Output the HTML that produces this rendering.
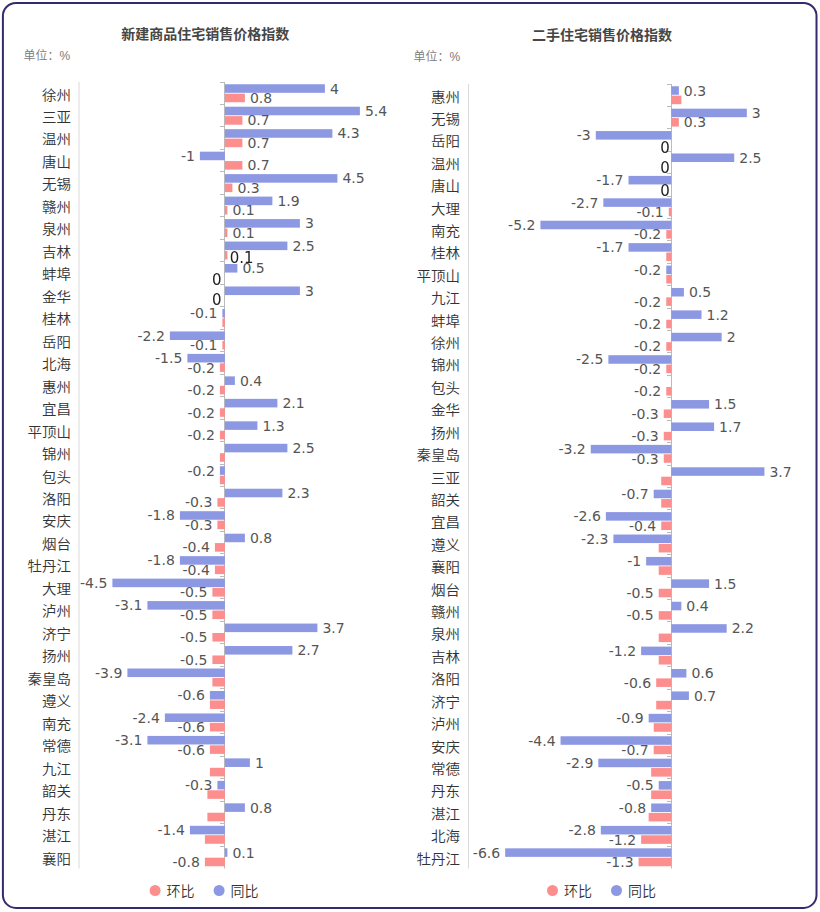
<!DOCTYPE html>
<html><head><meta charset="utf-8"><style>
html,body{margin:0;padding:0;background:#fff;width:820px;height:912px;overflow:hidden}
svg{position:absolute;left:0;top:0}
.ov{will-change:transform}
</style></head><body>

<svg width="820" height="912" viewBox="0 0 820 912">
<rect x="2.9" y="3" width="813.6" height="904.9" rx="13" ry="13" fill="none" stroke="#342b6e" stroke-width="2"/>
<g font-family="'Liberation Sans','Noto Sans CJK SC',sans-serif" font-size="14" font-weight="bold" fill="#464646" text-anchor="middle">
<text x="205.3" y="33.5" dominant-baseline="central">新建商品住宅销售价格指数</text>
<text x="602.1" y="34.5" dominant-baseline="central">二手住宅销售价格指数</text>
</g>
<g font-family="'Liberation Sans','Noto Sans CJK SC',sans-serif" font-size="12" font-weight="350" fill="#7a7a7a">
<text x="23.5" y="55.8" dominant-baseline="central">单位：%</text>
<text x="413.5" y="57.3" dominant-baseline="central">单位：%</text>
</g>
<rect x="78.50" y="82.00" width="1" height="786.50" fill="#d9d9d9"/>
<rect x="224" y="82.00" width="1" height="786.50" fill="#bbbbbb"/>
<rect x="220" y="82" width="4" height="1" fill="#bbbbbb"/>
<rect x="220" y="104" width="4" height="1" fill="#bbbbbb"/>
<rect x="220" y="126" width="4" height="1" fill="#bbbbbb"/>
<rect x="220" y="149" width="4" height="1" fill="#bbbbbb"/>
<rect x="220" y="171" width="4" height="1" fill="#bbbbbb"/>
<rect x="220" y="194" width="4" height="1" fill="#bbbbbb"/>
<rect x="220" y="216" width="4" height="1" fill="#bbbbbb"/>
<rect x="220" y="239" width="4" height="1" fill="#bbbbbb"/>
<rect x="220" y="261" width="4" height="1" fill="#bbbbbb"/>
<rect x="220" y="284" width="4" height="1" fill="#bbbbbb"/>
<rect x="220" y="306" width="4" height="1" fill="#bbbbbb"/>
<rect x="220" y="329" width="4" height="1" fill="#bbbbbb"/>
<rect x="220" y="351" width="4" height="1" fill="#bbbbbb"/>
<rect x="220" y="374" width="4" height="1" fill="#bbbbbb"/>
<rect x="220" y="396" width="4" height="1" fill="#bbbbbb"/>
<rect x="220" y="419" width="4" height="1" fill="#bbbbbb"/>
<rect x="220" y="441" width="4" height="1" fill="#bbbbbb"/>
<rect x="220" y="464" width="4" height="1" fill="#bbbbbb"/>
<rect x="220" y="486" width="4" height="1" fill="#bbbbbb"/>
<rect x="220" y="508" width="4" height="1" fill="#bbbbbb"/>
<rect x="220" y="531" width="4" height="1" fill="#bbbbbb"/>
<rect x="220" y="553" width="4" height="1" fill="#bbbbbb"/>
<rect x="220" y="576" width="4" height="1" fill="#bbbbbb"/>
<rect x="220" y="598" width="4" height="1" fill="#bbbbbb"/>
<rect x="220" y="621" width="4" height="1" fill="#bbbbbb"/>
<rect x="220" y="643" width="4" height="1" fill="#bbbbbb"/>
<rect x="220" y="666" width="4" height="1" fill="#bbbbbb"/>
<rect x="220" y="688" width="4" height="1" fill="#bbbbbb"/>
<rect x="220" y="711" width="4" height="1" fill="#bbbbbb"/>
<rect x="220" y="733" width="4" height="1" fill="#bbbbbb"/>
<rect x="220" y="756" width="4" height="1" fill="#bbbbbb"/>
<rect x="220" y="778" width="4" height="1" fill="#bbbbbb"/>
<rect x="220" y="801" width="4" height="1" fill="#bbbbbb"/>
<rect x="220" y="823" width="4" height="1" fill="#bbbbbb"/>
<rect x="220" y="846" width="4" height="1" fill="#bbbbbb"/>
<rect x="224.90" y="84.25" width="100.00" height="8.56" fill="#8d98e3"/>
<rect x="224.90" y="93.66" width="20.00" height="8.56" fill="#fd8e8e"/>
<rect x="224.90" y="106.72" width="135.00" height="8.56" fill="#8d98e3"/>
<rect x="224.90" y="116.14" width="17.50" height="8.56" fill="#fd8e8e"/>
<rect x="224.90" y="129.19" width="107.50" height="8.56" fill="#8d98e3"/>
<rect x="224.90" y="138.61" width="17.50" height="8.56" fill="#fd8e8e"/>
<rect x="199.90" y="151.66" width="25.00" height="8.56" fill="#8d98e3"/>
<rect x="224.90" y="161.08" width="17.50" height="8.56" fill="#fd8e8e"/>
<rect x="224.90" y="174.13" width="112.50" height="8.56" fill="#8d98e3"/>
<rect x="224.90" y="183.55" width="7.50" height="8.56" fill="#fd8e8e"/>
<rect x="224.90" y="196.60" width="47.50" height="8.56" fill="#8d98e3"/>
<rect x="224.90" y="206.02" width="2.50" height="8.56" fill="#fd8e8e"/>
<rect x="224.90" y="219.08" width="75.00" height="8.56" fill="#8d98e3"/>
<rect x="224.90" y="228.49" width="2.50" height="8.56" fill="#fd8e8e"/>
<rect x="224.90" y="241.55" width="62.50" height="8.56" fill="#8d98e3"/>
<rect x="224.90" y="250.96" width="2.50" height="8.56" fill="#fd8e8e"/>
<rect x="224.90" y="264.02" width="12.50" height="8.56" fill="#8d98e3"/>
<rect x="224.90" y="286.49" width="75.00" height="8.56" fill="#8d98e3"/>
<rect x="222.40" y="308.96" width="2.50" height="8.56" fill="#8d98e3"/>
<rect x="222.40" y="318.38" width="2.50" height="8.56" fill="#fd8e8e"/>
<rect x="169.90" y="331.43" width="55.00" height="8.56" fill="#8d98e3"/>
<rect x="222.40" y="340.85" width="2.50" height="8.56" fill="#fd8e8e"/>
<rect x="187.40" y="353.90" width="37.50" height="8.56" fill="#8d98e3"/>
<rect x="219.90" y="363.32" width="5.00" height="8.56" fill="#fd8e8e"/>
<rect x="224.90" y="376.38" width="10.00" height="8.56" fill="#8d98e3"/>
<rect x="219.90" y="385.79" width="5.00" height="8.56" fill="#fd8e8e"/>
<rect x="224.90" y="398.85" width="52.50" height="8.56" fill="#8d98e3"/>
<rect x="219.90" y="408.26" width="5.00" height="8.56" fill="#fd8e8e"/>
<rect x="224.90" y="421.32" width="32.50" height="8.56" fill="#8d98e3"/>
<rect x="219.90" y="430.74" width="5.00" height="8.56" fill="#fd8e8e"/>
<rect x="224.90" y="443.79" width="62.50" height="8.56" fill="#8d98e3"/>
<rect x="219.90" y="453.21" width="5.00" height="8.56" fill="#fd8e8e"/>
<rect x="219.90" y="466.26" width="5.00" height="8.56" fill="#8d98e3"/>
<rect x="219.90" y="475.68" width="5.00" height="8.56" fill="#fd8e8e"/>
<rect x="224.90" y="488.73" width="57.50" height="8.56" fill="#8d98e3"/>
<rect x="217.40" y="498.15" width="7.50" height="8.56" fill="#fd8e8e"/>
<rect x="179.90" y="511.20" width="45.00" height="8.56" fill="#8d98e3"/>
<rect x="217.40" y="520.62" width="7.50" height="8.56" fill="#fd8e8e"/>
<rect x="224.90" y="533.68" width="20.00" height="8.56" fill="#8d98e3"/>
<rect x="214.90" y="543.09" width="10.00" height="8.56" fill="#fd8e8e"/>
<rect x="179.90" y="556.15" width="45.00" height="8.56" fill="#8d98e3"/>
<rect x="214.90" y="565.56" width="10.00" height="8.56" fill="#fd8e8e"/>
<rect x="112.40" y="578.62" width="112.50" height="8.56" fill="#8d98e3"/>
<rect x="212.40" y="588.04" width="12.50" height="8.56" fill="#fd8e8e"/>
<rect x="147.40" y="601.09" width="77.50" height="8.56" fill="#8d98e3"/>
<rect x="212.40" y="610.51" width="12.50" height="8.56" fill="#fd8e8e"/>
<rect x="224.90" y="623.56" width="92.50" height="8.56" fill="#8d98e3"/>
<rect x="212.40" y="632.98" width="12.50" height="8.56" fill="#fd8e8e"/>
<rect x="224.90" y="646.03" width="67.50" height="8.56" fill="#8d98e3"/>
<rect x="212.40" y="655.45" width="12.50" height="8.56" fill="#fd8e8e"/>
<rect x="127.40" y="668.50" width="97.50" height="8.56" fill="#8d98e3"/>
<rect x="212.40" y="677.92" width="12.50" height="8.56" fill="#fd8e8e"/>
<rect x="209.90" y="690.98" width="15.00" height="8.56" fill="#8d98e3"/>
<rect x="209.90" y="700.39" width="15.00" height="8.56" fill="#fd8e8e"/>
<rect x="164.90" y="713.45" width="60.00" height="8.56" fill="#8d98e3"/>
<rect x="209.90" y="722.86" width="15.00" height="8.56" fill="#fd8e8e"/>
<rect x="147.40" y="735.92" width="77.50" height="8.56" fill="#8d98e3"/>
<rect x="209.90" y="745.34" width="15.00" height="8.56" fill="#fd8e8e"/>
<rect x="224.90" y="758.39" width="25.00" height="8.56" fill="#8d98e3"/>
<rect x="209.90" y="767.81" width="15.00" height="8.56" fill="#fd8e8e"/>
<rect x="217.40" y="780.86" width="7.50" height="8.56" fill="#8d98e3"/>
<rect x="207.40" y="790.28" width="17.50" height="8.56" fill="#fd8e8e"/>
<rect x="224.90" y="803.33" width="20.00" height="8.56" fill="#8d98e3"/>
<rect x="207.40" y="812.75" width="17.50" height="8.56" fill="#fd8e8e"/>
<rect x="189.90" y="825.80" width="35.00" height="8.56" fill="#8d98e3"/>
<rect x="204.90" y="835.22" width="20.00" height="8.56" fill="#fd8e8e"/>
<rect x="224.90" y="848.28" width="2.50" height="8.56" fill="#8d98e3"/>
<rect x="204.90" y="857.69" width="20.00" height="8.56" fill="#fd8e8e"/>
<g font-family="'DejaVu Sans','Noto Sans CJK SC',sans-serif" font-size="14"><text x="329.90" y="88.53" fill="#555555" dominant-baseline="central">4</text><text x="249.90" y="97.94" fill="#555555" dominant-baseline="central">0.8</text><text x="364.90" y="111.00" fill="#555555" dominant-baseline="central">5.4</text><text x="247.40" y="120.42" fill="#555555" dominant-baseline="central">0.7</text><text x="337.40" y="133.47" fill="#555555" dominant-baseline="central">4.3</text><text x="247.40" y="142.89" fill="#555555" dominant-baseline="central">0.7</text><text x="194.90" y="155.94" fill="#555555" text-anchor="end" dominant-baseline="central">-1</text><text x="247.40" y="165.36" fill="#555555" dominant-baseline="central">0.7</text><text x="342.40" y="178.41" fill="#555555" dominant-baseline="central">4.5</text><text x="237.40" y="187.83" fill="#555555" dominant-baseline="central">0.3</text><text x="277.40" y="200.88" fill="#555555" dominant-baseline="central">1.9</text><text x="232.40" y="210.30" fill="#555555" dominant-baseline="central">0.1</text><text x="304.90" y="223.36" fill="#555555" dominant-baseline="central">3</text><text x="232.40" y="232.77" fill="#555555" dominant-baseline="central">0.1</text><text x="292.40" y="245.83" fill="#555555" dominant-baseline="central">2.5</text><text x="242.40" y="268.30" fill="#555555" dominant-baseline="central">0.5</text><text x="304.90" y="290.77" fill="#555555" dominant-baseline="central">3</text><text x="217.40" y="313.24" fill="#555555" text-anchor="end" dominant-baseline="central">-0.1</text><text x="164.90" y="335.71" fill="#555555" text-anchor="end" dominant-baseline="central">-2.2</text><text x="217.40" y="345.13" fill="#555555" text-anchor="end" dominant-baseline="central">-0.1</text><text x="182.40" y="358.18" fill="#555555" text-anchor="end" dominant-baseline="central">-1.5</text><text x="214.90" y="367.60" fill="#555555" text-anchor="end" dominant-baseline="central">-0.2</text><text x="239.90" y="380.66" fill="#555555" dominant-baseline="central">0.4</text><text x="214.90" y="390.07" fill="#555555" text-anchor="end" dominant-baseline="central">-0.2</text><text x="282.40" y="403.13" fill="#555555" dominant-baseline="central">2.1</text><text x="214.90" y="412.54" fill="#555555" text-anchor="end" dominant-baseline="central">-0.2</text><text x="262.40" y="425.60" fill="#555555" dominant-baseline="central">1.3</text><text x="214.90" y="435.02" fill="#555555" text-anchor="end" dominant-baseline="central">-0.2</text><text x="292.40" y="448.07" fill="#555555" dominant-baseline="central">2.5</text><text x="214.90" y="470.54" fill="#555555" text-anchor="end" dominant-baseline="central">-0.2</text><text x="287.40" y="493.01" fill="#555555" dominant-baseline="central">2.3</text><text x="212.40" y="502.43" fill="#555555" text-anchor="end" dominant-baseline="central">-0.3</text><text x="174.90" y="515.48" fill="#555555" text-anchor="end" dominant-baseline="central">-1.8</text><text x="212.40" y="524.90" fill="#555555" text-anchor="end" dominant-baseline="central">-0.3</text><text x="249.90" y="537.96" fill="#555555" dominant-baseline="central">0.8</text><text x="209.90" y="547.37" fill="#555555" text-anchor="end" dominant-baseline="central">-0.4</text><text x="174.90" y="560.43" fill="#555555" text-anchor="end" dominant-baseline="central">-1.8</text><text x="209.90" y="569.84" fill="#555555" text-anchor="end" dominant-baseline="central">-0.4</text><text x="107.40" y="582.90" fill="#555555" text-anchor="end" dominant-baseline="central">-4.5</text><text x="207.40" y="592.32" fill="#555555" text-anchor="end" dominant-baseline="central">-0.5</text><text x="142.40" y="605.37" fill="#555555" text-anchor="end" dominant-baseline="central">-3.1</text><text x="207.40" y="614.79" fill="#555555" text-anchor="end" dominant-baseline="central">-0.5</text><text x="322.40" y="627.84" fill="#555555" dominant-baseline="central">3.7</text><text x="207.40" y="637.26" fill="#555555" text-anchor="end" dominant-baseline="central">-0.5</text><text x="297.40" y="650.31" fill="#555555" dominant-baseline="central">2.7</text><text x="207.40" y="659.73" fill="#555555" text-anchor="end" dominant-baseline="central">-0.5</text><text x="122.40" y="672.78" fill="#555555" text-anchor="end" dominant-baseline="central">-3.9</text><text x="204.90" y="695.26" fill="#555555" text-anchor="end" dominant-baseline="central">-0.6</text><text x="159.90" y="717.73" fill="#555555" text-anchor="end" dominant-baseline="central">-2.4</text><text x="204.90" y="727.14" fill="#555555" text-anchor="end" dominant-baseline="central">-0.6</text><text x="142.40" y="740.20" fill="#555555" text-anchor="end" dominant-baseline="central">-3.1</text><text x="204.90" y="749.62" fill="#555555" text-anchor="end" dominant-baseline="central">-0.6</text><text x="254.90" y="762.67" fill="#555555" dominant-baseline="central">1</text><text x="212.40" y="785.14" fill="#555555" text-anchor="end" dominant-baseline="central">-0.3</text><text x="249.90" y="807.61" fill="#555555" dominant-baseline="central">0.8</text><text x="184.90" y="830.08" fill="#555555" text-anchor="end" dominant-baseline="central">-1.4</text><text x="232.40" y="852.56" fill="#555555" dominant-baseline="central">0.1</text><text x="199.90" y="861.97" fill="#555555" text-anchor="end" dominant-baseline="central">-0.8</text></g>
<g font-family="'Liberation Sans','Noto Sans CJK SC',sans-serif" font-size="14" font-weight="350" fill="#333333"><text x="71.00" y="94.54" text-anchor="end" dominant-baseline="central" textLength="28.98" lengthAdjust="spacingAndGlyphs">徐州</text><text x="71.00" y="117.01" text-anchor="end" dominant-baseline="central" textLength="28.98" lengthAdjust="spacingAndGlyphs">三亚</text><text x="71.00" y="139.48" text-anchor="end" dominant-baseline="central" textLength="28.98" lengthAdjust="spacingAndGlyphs">温州</text><text x="71.00" y="161.95" text-anchor="end" dominant-baseline="central" textLength="28.98" lengthAdjust="spacingAndGlyphs">唐山</text><text x="71.00" y="184.42" text-anchor="end" dominant-baseline="central" textLength="28.98" lengthAdjust="spacingAndGlyphs">无锡</text><text x="71.00" y="206.89" text-anchor="end" dominant-baseline="central" textLength="28.98" lengthAdjust="spacingAndGlyphs">赣州</text><text x="71.00" y="229.36" text-anchor="end" dominant-baseline="central" textLength="28.98" lengthAdjust="spacingAndGlyphs">泉州</text><text x="71.00" y="251.84" text-anchor="end" dominant-baseline="central" textLength="28.98" lengthAdjust="spacingAndGlyphs">吉林</text><text x="71.00" y="274.31" text-anchor="end" dominant-baseline="central" textLength="28.98" lengthAdjust="spacingAndGlyphs">蚌埠</text><text x="71.00" y="296.78" text-anchor="end" dominant-baseline="central" textLength="28.98" lengthAdjust="spacingAndGlyphs">金华</text><text x="71.00" y="319.25" text-anchor="end" dominant-baseline="central" textLength="28.98" lengthAdjust="spacingAndGlyphs">桂林</text><text x="71.00" y="341.72" text-anchor="end" dominant-baseline="central" textLength="28.98" lengthAdjust="spacingAndGlyphs">岳阳</text><text x="71.00" y="364.19" text-anchor="end" dominant-baseline="central" textLength="28.98" lengthAdjust="spacingAndGlyphs">北海</text><text x="71.00" y="386.66" text-anchor="end" dominant-baseline="central" textLength="28.98" lengthAdjust="spacingAndGlyphs">惠州</text><text x="71.00" y="409.14" text-anchor="end" dominant-baseline="central" textLength="28.98" lengthAdjust="spacingAndGlyphs">宜昌</text><text x="71.00" y="431.61" text-anchor="end" dominant-baseline="central" textLength="43.47" lengthAdjust="spacingAndGlyphs">平顶山</text><text x="71.00" y="454.08" text-anchor="end" dominant-baseline="central" textLength="28.98" lengthAdjust="spacingAndGlyphs">锦州</text><text x="71.00" y="476.55" text-anchor="end" dominant-baseline="central" textLength="28.98" lengthAdjust="spacingAndGlyphs">包头</text><text x="71.00" y="499.02" text-anchor="end" dominant-baseline="central" textLength="28.98" lengthAdjust="spacingAndGlyphs">洛阳</text><text x="71.00" y="521.49" text-anchor="end" dominant-baseline="central" textLength="28.98" lengthAdjust="spacingAndGlyphs">安庆</text><text x="71.00" y="543.96" text-anchor="end" dominant-baseline="central" textLength="28.98" lengthAdjust="spacingAndGlyphs">烟台</text><text x="71.00" y="566.44" text-anchor="end" dominant-baseline="central" textLength="43.47" lengthAdjust="spacingAndGlyphs">牡丹江</text><text x="71.00" y="588.91" text-anchor="end" dominant-baseline="central" textLength="28.98" lengthAdjust="spacingAndGlyphs">大理</text><text x="71.00" y="611.38" text-anchor="end" dominant-baseline="central" textLength="28.98" lengthAdjust="spacingAndGlyphs">泸州</text><text x="71.00" y="633.85" text-anchor="end" dominant-baseline="central" textLength="28.98" lengthAdjust="spacingAndGlyphs">济宁</text><text x="71.00" y="656.32" text-anchor="end" dominant-baseline="central" textLength="28.98" lengthAdjust="spacingAndGlyphs">扬州</text><text x="71.00" y="678.79" text-anchor="end" dominant-baseline="central" textLength="43.47" lengthAdjust="spacingAndGlyphs">秦皇岛</text><text x="71.00" y="701.26" text-anchor="end" dominant-baseline="central" textLength="28.98" lengthAdjust="spacingAndGlyphs">遵义</text><text x="71.00" y="723.74" text-anchor="end" dominant-baseline="central" textLength="28.98" lengthAdjust="spacingAndGlyphs">南充</text><text x="71.00" y="746.21" text-anchor="end" dominant-baseline="central" textLength="28.98" lengthAdjust="spacingAndGlyphs">常德</text><text x="71.00" y="768.68" text-anchor="end" dominant-baseline="central" textLength="28.98" lengthAdjust="spacingAndGlyphs">九江</text><text x="71.00" y="791.15" text-anchor="end" dominant-baseline="central" textLength="28.98" lengthAdjust="spacingAndGlyphs">韶关</text><text x="71.00" y="813.62" text-anchor="end" dominant-baseline="central" textLength="28.98" lengthAdjust="spacingAndGlyphs">丹东</text><text x="71.00" y="836.09" text-anchor="end" dominant-baseline="central" textLength="28.98" lengthAdjust="spacingAndGlyphs">湛江</text><text x="71.00" y="858.56" text-anchor="end" dominant-baseline="central" textLength="28.98" lengthAdjust="spacingAndGlyphs">襄阳</text></g>
<rect x="468.00" y="84.00" width="1" height="784.50" fill="#d9d9d9"/>
<rect x="671" y="84.00" width="1" height="784.50" fill="#bbbbbb"/>
<rect x="667" y="84" width="4" height="1" fill="#bbbbbb"/>
<rect x="667" y="106" width="4" height="1" fill="#bbbbbb"/>
<rect x="667" y="128" width="4" height="1" fill="#bbbbbb"/>
<rect x="667" y="151" width="4" height="1" fill="#bbbbbb"/>
<rect x="667" y="173" width="4" height="1" fill="#bbbbbb"/>
<rect x="667" y="196" width="4" height="1" fill="#bbbbbb"/>
<rect x="667" y="218" width="4" height="1" fill="#bbbbbb"/>
<rect x="667" y="240" width="4" height="1" fill="#bbbbbb"/>
<rect x="667" y="263" width="4" height="1" fill="#bbbbbb"/>
<rect x="667" y="285" width="4" height="1" fill="#bbbbbb"/>
<rect x="667" y="308" width="4" height="1" fill="#bbbbbb"/>
<rect x="667" y="330" width="4" height="1" fill="#bbbbbb"/>
<rect x="667" y="352" width="4" height="1" fill="#bbbbbb"/>
<rect x="667" y="375" width="4" height="1" fill="#bbbbbb"/>
<rect x="667" y="397" width="4" height="1" fill="#bbbbbb"/>
<rect x="667" y="420" width="4" height="1" fill="#bbbbbb"/>
<rect x="667" y="442" width="4" height="1" fill="#bbbbbb"/>
<rect x="667" y="465" width="4" height="1" fill="#bbbbbb"/>
<rect x="667" y="487" width="4" height="1" fill="#bbbbbb"/>
<rect x="667" y="509" width="4" height="1" fill="#bbbbbb"/>
<rect x="667" y="532" width="4" height="1" fill="#bbbbbb"/>
<rect x="667" y="554" width="4" height="1" fill="#bbbbbb"/>
<rect x="667" y="577" width="4" height="1" fill="#bbbbbb"/>
<rect x="667" y="599" width="4" height="1" fill="#bbbbbb"/>
<rect x="667" y="621" width="4" height="1" fill="#bbbbbb"/>
<rect x="667" y="644" width="4" height="1" fill="#bbbbbb"/>
<rect x="667" y="666" width="4" height="1" fill="#bbbbbb"/>
<rect x="667" y="689" width="4" height="1" fill="#bbbbbb"/>
<rect x="667" y="711" width="4" height="1" fill="#bbbbbb"/>
<rect x="667" y="734" width="4" height="1" fill="#bbbbbb"/>
<rect x="667" y="756" width="4" height="1" fill="#bbbbbb"/>
<rect x="667" y="778" width="4" height="1" fill="#bbbbbb"/>
<rect x="667" y="801" width="4" height="1" fill="#bbbbbb"/>
<rect x="667" y="823" width="4" height="1" fill="#bbbbbb"/>
<rect x="667" y="846" width="4" height="1" fill="#bbbbbb"/>
<rect x="671.30" y="86.24" width="7.55" height="8.54" fill="#8d98e3"/>
<rect x="671.30" y="95.63" width="10.07" height="8.54" fill="#fd8e8e"/>
<rect x="671.30" y="108.66" width="75.51" height="8.54" fill="#8d98e3"/>
<rect x="671.30" y="118.05" width="7.55" height="8.54" fill="#fd8e8e"/>
<rect x="595.79" y="131.07" width="75.51" height="8.54" fill="#8d98e3"/>
<rect x="671.30" y="153.48" width="62.93" height="8.54" fill="#8d98e3"/>
<rect x="628.51" y="175.90" width="42.79" height="8.54" fill="#8d98e3"/>
<rect x="603.34" y="198.31" width="67.96" height="8.54" fill="#8d98e3"/>
<rect x="668.78" y="207.71" width="2.52" height="8.54" fill="#fd8e8e"/>
<rect x="540.42" y="220.73" width="130.88" height="8.54" fill="#8d98e3"/>
<rect x="666.27" y="230.12" width="5.03" height="8.54" fill="#fd8e8e"/>
<rect x="628.51" y="243.14" width="42.79" height="8.54" fill="#8d98e3"/>
<rect x="666.27" y="252.53" width="5.03" height="8.54" fill="#fd8e8e"/>
<rect x="666.27" y="265.56" width="5.03" height="8.54" fill="#8d98e3"/>
<rect x="666.27" y="274.95" width="5.03" height="8.54" fill="#fd8e8e"/>
<rect x="671.30" y="287.97" width="12.59" height="8.54" fill="#8d98e3"/>
<rect x="666.27" y="297.36" width="5.03" height="8.54" fill="#fd8e8e"/>
<rect x="671.30" y="310.38" width="30.20" height="8.54" fill="#8d98e3"/>
<rect x="666.27" y="319.78" width="5.03" height="8.54" fill="#fd8e8e"/>
<rect x="671.30" y="332.80" width="50.34" height="8.54" fill="#8d98e3"/>
<rect x="666.27" y="342.19" width="5.03" height="8.54" fill="#fd8e8e"/>
<rect x="608.38" y="355.21" width="62.93" height="8.54" fill="#8d98e3"/>
<rect x="666.27" y="364.61" width="5.03" height="8.54" fill="#fd8e8e"/>
<rect x="666.27" y="387.02" width="5.03" height="8.54" fill="#fd8e8e"/>
<rect x="671.30" y="400.04" width="37.76" height="8.54" fill="#8d98e3"/>
<rect x="663.75" y="409.43" width="7.55" height="8.54" fill="#fd8e8e"/>
<rect x="671.30" y="422.46" width="42.79" height="8.54" fill="#8d98e3"/>
<rect x="663.75" y="431.85" width="7.55" height="8.54" fill="#fd8e8e"/>
<rect x="590.76" y="444.87" width="80.54" height="8.54" fill="#8d98e3"/>
<rect x="663.75" y="454.26" width="7.55" height="8.54" fill="#fd8e8e"/>
<rect x="671.30" y="467.28" width="93.13" height="8.54" fill="#8d98e3"/>
<rect x="661.23" y="476.68" width="10.07" height="8.54" fill="#fd8e8e"/>
<rect x="653.68" y="489.70" width="17.62" height="8.54" fill="#8d98e3"/>
<rect x="661.23" y="499.09" width="10.07" height="8.54" fill="#fd8e8e"/>
<rect x="605.86" y="512.11" width="65.44" height="8.54" fill="#8d98e3"/>
<rect x="661.23" y="521.51" width="10.07" height="8.54" fill="#fd8e8e"/>
<rect x="613.41" y="534.53" width="57.89" height="8.54" fill="#8d98e3"/>
<rect x="658.71" y="543.92" width="12.59" height="8.54" fill="#fd8e8e"/>
<rect x="646.13" y="556.94" width="25.17" height="8.54" fill="#8d98e3"/>
<rect x="658.71" y="566.33" width="12.59" height="8.54" fill="#fd8e8e"/>
<rect x="671.30" y="579.36" width="37.76" height="8.54" fill="#8d98e3"/>
<rect x="658.71" y="588.75" width="12.59" height="8.54" fill="#fd8e8e"/>
<rect x="671.30" y="601.77" width="10.07" height="8.54" fill="#8d98e3"/>
<rect x="658.71" y="611.16" width="12.59" height="8.54" fill="#fd8e8e"/>
<rect x="671.30" y="624.18" width="55.37" height="8.54" fill="#8d98e3"/>
<rect x="658.71" y="633.58" width="12.59" height="8.54" fill="#fd8e8e"/>
<rect x="641.10" y="646.60" width="30.20" height="8.54" fill="#8d98e3"/>
<rect x="658.71" y="655.99" width="12.59" height="8.54" fill="#fd8e8e"/>
<rect x="671.30" y="669.01" width="15.10" height="8.54" fill="#8d98e3"/>
<rect x="656.20" y="678.41" width="15.10" height="8.54" fill="#fd8e8e"/>
<rect x="671.30" y="691.43" width="17.62" height="8.54" fill="#8d98e3"/>
<rect x="656.20" y="700.82" width="15.10" height="8.54" fill="#fd8e8e"/>
<rect x="648.65" y="713.84" width="22.65" height="8.54" fill="#8d98e3"/>
<rect x="653.68" y="723.23" width="17.62" height="8.54" fill="#fd8e8e"/>
<rect x="560.55" y="736.26" width="110.75" height="8.54" fill="#8d98e3"/>
<rect x="653.68" y="745.65" width="17.62" height="8.54" fill="#fd8e8e"/>
<rect x="598.31" y="758.67" width="72.99" height="8.54" fill="#8d98e3"/>
<rect x="651.16" y="768.06" width="20.14" height="8.54" fill="#fd8e8e"/>
<rect x="658.71" y="781.08" width="12.59" height="8.54" fill="#8d98e3"/>
<rect x="651.16" y="790.48" width="20.14" height="8.54" fill="#fd8e8e"/>
<rect x="651.16" y="803.50" width="20.14" height="8.54" fill="#8d98e3"/>
<rect x="648.65" y="812.89" width="22.65" height="8.54" fill="#fd8e8e"/>
<rect x="600.82" y="825.91" width="70.48" height="8.54" fill="#8d98e3"/>
<rect x="641.10" y="835.31" width="30.20" height="8.54" fill="#fd8e8e"/>
<rect x="505.18" y="848.33" width="166.12" height="8.54" fill="#8d98e3"/>
<rect x="638.58" y="857.72" width="32.72" height="8.54" fill="#fd8e8e"/>
<g font-family="'DejaVu Sans','Noto Sans CJK SC',sans-serif" font-size="14"><text x="683.85" y="90.51" fill="#555555" dominant-baseline="central">0.3</text><text x="751.81" y="112.93" fill="#555555" dominant-baseline="central">3</text><text x="683.85" y="122.32" fill="#555555" dominant-baseline="central">0.3</text><text x="590.79" y="135.34" fill="#555555" text-anchor="end" dominant-baseline="central">-3</text><text x="739.22" y="157.75" fill="#555555" dominant-baseline="central">2.5</text><text x="623.51" y="180.17" fill="#555555" text-anchor="end" dominant-baseline="central">-1.7</text><text x="598.34" y="202.58" fill="#555555" text-anchor="end" dominant-baseline="central">-2.7</text><text x="663.78" y="211.97" fill="#555555" text-anchor="end" dominant-baseline="central">-0.1</text><text x="535.42" y="225.00" fill="#555555" text-anchor="end" dominant-baseline="central">-5.2</text><text x="661.27" y="234.39" fill="#555555" text-anchor="end" dominant-baseline="central">-0.2</text><text x="623.51" y="247.41" fill="#555555" text-anchor="end" dominant-baseline="central">-1.7</text><text x="661.27" y="269.83" fill="#555555" text-anchor="end" dominant-baseline="central">-0.2</text><text x="688.88" y="292.24" fill="#555555" dominant-baseline="central">0.5</text><text x="661.27" y="301.63" fill="#555555" text-anchor="end" dominant-baseline="central">-0.2</text><text x="706.50" y="314.65" fill="#555555" dominant-baseline="central">1.2</text><text x="661.27" y="324.05" fill="#555555" text-anchor="end" dominant-baseline="central">-0.2</text><text x="726.64" y="337.07" fill="#555555" dominant-baseline="central">2</text><text x="661.27" y="346.46" fill="#555555" text-anchor="end" dominant-baseline="central">-0.2</text><text x="603.38" y="359.48" fill="#555555" text-anchor="end" dominant-baseline="central">-2.5</text><text x="661.27" y="368.87" fill="#555555" text-anchor="end" dominant-baseline="central">-0.2</text><text x="661.27" y="391.29" fill="#555555" text-anchor="end" dominant-baseline="central">-0.2</text><text x="714.05" y="404.31" fill="#555555" dominant-baseline="central">1.5</text><text x="658.75" y="413.70" fill="#555555" text-anchor="end" dominant-baseline="central">-0.3</text><text x="719.09" y="426.73" fill="#555555" dominant-baseline="central">1.7</text><text x="658.75" y="436.12" fill="#555555" text-anchor="end" dominant-baseline="central">-0.3</text><text x="585.76" y="449.14" fill="#555555" text-anchor="end" dominant-baseline="central">-3.2</text><text x="658.75" y="458.53" fill="#555555" text-anchor="end" dominant-baseline="central">-0.3</text><text x="769.43" y="471.55" fill="#555555" dominant-baseline="central">3.7</text><text x="648.68" y="493.97" fill="#555555" text-anchor="end" dominant-baseline="central">-0.7</text><text x="600.86" y="516.38" fill="#555555" text-anchor="end" dominant-baseline="central">-2.6</text><text x="656.23" y="525.77" fill="#555555" text-anchor="end" dominant-baseline="central">-0.4</text><text x="608.41" y="538.80" fill="#555555" text-anchor="end" dominant-baseline="central">-2.3</text><text x="641.13" y="561.21" fill="#555555" text-anchor="end" dominant-baseline="central">-1</text><text x="714.05" y="583.63" fill="#555555" dominant-baseline="central">1.5</text><text x="653.71" y="593.02" fill="#555555" text-anchor="end" dominant-baseline="central">-0.5</text><text x="686.37" y="606.04" fill="#555555" dominant-baseline="central">0.4</text><text x="653.71" y="615.43" fill="#555555" text-anchor="end" dominant-baseline="central">-0.5</text><text x="731.67" y="628.45" fill="#555555" dominant-baseline="central">2.2</text><text x="636.10" y="650.87" fill="#555555" text-anchor="end" dominant-baseline="central">-1.2</text><text x="691.40" y="673.28" fill="#555555" dominant-baseline="central">0.6</text><text x="651.20" y="682.67" fill="#555555" text-anchor="end" dominant-baseline="central">-0.6</text><text x="693.92" y="695.70" fill="#555555" dominant-baseline="central">0.7</text><text x="643.65" y="718.11" fill="#555555" text-anchor="end" dominant-baseline="central">-0.9</text><text x="555.55" y="740.53" fill="#555555" text-anchor="end" dominant-baseline="central">-4.4</text><text x="648.68" y="749.92" fill="#555555" text-anchor="end" dominant-baseline="central">-0.7</text><text x="593.31" y="762.94" fill="#555555" text-anchor="end" dominant-baseline="central">-2.9</text><text x="653.71" y="785.35" fill="#555555" text-anchor="end" dominant-baseline="central">-0.5</text><text x="646.16" y="807.77" fill="#555555" text-anchor="end" dominant-baseline="central">-0.8</text><text x="595.82" y="830.18" fill="#555555" text-anchor="end" dominant-baseline="central">-2.8</text><text x="636.10" y="839.57" fill="#555555" text-anchor="end" dominant-baseline="central">-1.2</text><text x="500.18" y="852.60" fill="#555555" text-anchor="end" dominant-baseline="central">-6.6</text><text x="633.58" y="861.99" fill="#555555" text-anchor="end" dominant-baseline="central">-1.3</text></g>
<g font-family="'Liberation Sans','Noto Sans CJK SC',sans-serif" font-size="14" font-weight="350" fill="#333333"><text x="460.00" y="96.51" text-anchor="end" dominant-baseline="central" textLength="28.98" lengthAdjust="spacingAndGlyphs">惠州</text><text x="460.00" y="118.92" text-anchor="end" dominant-baseline="central" textLength="28.98" lengthAdjust="spacingAndGlyphs">无锡</text><text x="460.00" y="141.34" text-anchor="end" dominant-baseline="central" textLength="28.98" lengthAdjust="spacingAndGlyphs">岳阳</text><text x="460.00" y="163.75" text-anchor="end" dominant-baseline="central" textLength="28.98" lengthAdjust="spacingAndGlyphs">温州</text><text x="460.00" y="186.16" text-anchor="end" dominant-baseline="central" textLength="28.98" lengthAdjust="spacingAndGlyphs">唐山</text><text x="460.00" y="208.58" text-anchor="end" dominant-baseline="central" textLength="28.98" lengthAdjust="spacingAndGlyphs">大理</text><text x="460.00" y="230.99" text-anchor="end" dominant-baseline="central" textLength="28.98" lengthAdjust="spacingAndGlyphs">南充</text><text x="460.00" y="253.41" text-anchor="end" dominant-baseline="central" textLength="28.98" lengthAdjust="spacingAndGlyphs">桂林</text><text x="460.00" y="275.82" text-anchor="end" dominant-baseline="central" textLength="43.47" lengthAdjust="spacingAndGlyphs">平顶山</text><text x="460.00" y="298.24" text-anchor="end" dominant-baseline="central" textLength="28.98" lengthAdjust="spacingAndGlyphs">九江</text><text x="460.00" y="320.65" text-anchor="end" dominant-baseline="central" textLength="28.98" lengthAdjust="spacingAndGlyphs">蚌埠</text><text x="460.00" y="343.06" text-anchor="end" dominant-baseline="central" textLength="28.98" lengthAdjust="spacingAndGlyphs">徐州</text><text x="460.00" y="365.48" text-anchor="end" dominant-baseline="central" textLength="28.98" lengthAdjust="spacingAndGlyphs">锦州</text><text x="460.00" y="387.89" text-anchor="end" dominant-baseline="central" textLength="28.98" lengthAdjust="spacingAndGlyphs">包头</text><text x="460.00" y="410.31" text-anchor="end" dominant-baseline="central" textLength="28.98" lengthAdjust="spacingAndGlyphs">金华</text><text x="460.00" y="432.72" text-anchor="end" dominant-baseline="central" textLength="28.98" lengthAdjust="spacingAndGlyphs">扬州</text><text x="460.00" y="455.14" text-anchor="end" dominant-baseline="central" textLength="43.47" lengthAdjust="spacingAndGlyphs">秦皇岛</text><text x="460.00" y="477.55" text-anchor="end" dominant-baseline="central" textLength="28.98" lengthAdjust="spacingAndGlyphs">三亚</text><text x="460.00" y="499.96" text-anchor="end" dominant-baseline="central" textLength="28.98" lengthAdjust="spacingAndGlyphs">韶关</text><text x="460.00" y="522.38" text-anchor="end" dominant-baseline="central" textLength="28.98" lengthAdjust="spacingAndGlyphs">宜昌</text><text x="460.00" y="544.79" text-anchor="end" dominant-baseline="central" textLength="28.98" lengthAdjust="spacingAndGlyphs">遵义</text><text x="460.00" y="567.21" text-anchor="end" dominant-baseline="central" textLength="28.98" lengthAdjust="spacingAndGlyphs">襄阳</text><text x="460.00" y="589.62" text-anchor="end" dominant-baseline="central" textLength="28.98" lengthAdjust="spacingAndGlyphs">烟台</text><text x="460.00" y="612.04" text-anchor="end" dominant-baseline="central" textLength="28.98" lengthAdjust="spacingAndGlyphs">赣州</text><text x="460.00" y="634.45" text-anchor="end" dominant-baseline="central" textLength="28.98" lengthAdjust="spacingAndGlyphs">泉州</text><text x="460.00" y="656.86" text-anchor="end" dominant-baseline="central" textLength="28.98" lengthAdjust="spacingAndGlyphs">吉林</text><text x="460.00" y="679.28" text-anchor="end" dominant-baseline="central" textLength="28.98" lengthAdjust="spacingAndGlyphs">洛阳</text><text x="460.00" y="701.69" text-anchor="end" dominant-baseline="central" textLength="28.98" lengthAdjust="spacingAndGlyphs">济宁</text><text x="460.00" y="724.11" text-anchor="end" dominant-baseline="central" textLength="28.98" lengthAdjust="spacingAndGlyphs">泸州</text><text x="460.00" y="746.52" text-anchor="end" dominant-baseline="central" textLength="28.98" lengthAdjust="spacingAndGlyphs">安庆</text><text x="460.00" y="768.94" text-anchor="end" dominant-baseline="central" textLength="28.98" lengthAdjust="spacingAndGlyphs">常德</text><text x="460.00" y="791.35" text-anchor="end" dominant-baseline="central" textLength="28.98" lengthAdjust="spacingAndGlyphs">丹东</text><text x="460.00" y="813.76" text-anchor="end" dominant-baseline="central" textLength="28.98" lengthAdjust="spacingAndGlyphs">湛江</text><text x="460.00" y="836.18" text-anchor="end" dominant-baseline="central" textLength="28.98" lengthAdjust="spacingAndGlyphs">北海</text><text x="460.00" y="858.59" text-anchor="end" dominant-baseline="central" textLength="43.47" lengthAdjust="spacingAndGlyphs">牡丹江</text></g>
<g font-family="'Liberation Sans','Noto Sans CJK SC',sans-serif" font-size="14" font-weight="350" fill="#333333">
<circle cx="155.10" cy="890.5" r="5.5" fill="#fd8e8e"/><text x="166.60" y="891.3" dominant-baseline="central">环比</text><circle cx="219.10" cy="890.5" r="5.5" fill="#8d98e3"/><text x="230.60" y="891.3" dominant-baseline="central">同比</text>
<circle cx="552.50" cy="890.5" r="5.5" fill="#fd8e8e"/><text x="564.00" y="891.3" dominant-baseline="central">环比</text><circle cx="616.50" cy="890.5" r="5.5" fill="#8d98e3"/><text x="628.00" y="891.3" dominant-baseline="central">同比</text>
</g>
</svg>
<svg class="ov" width="820" height="912" viewBox="0 0 820 912">
<g font-family="'DejaVu Sans','Noto Sans CJK SC',sans-serif" font-size="15" fill="#222222"><text x="229.80" y="257.75" text-anchor="start" dominant-baseline="central">0.1</text><text x="221.50" y="279.85" text-anchor="end" dominant-baseline="central">0</text><text x="221.50" y="299.95" text-anchor="end" dominant-baseline="central">0</text></g>
<g font-family="'DejaVu Sans','Noto Sans CJK SC',sans-serif" font-size="15" fill="#222222"><text x="669.80" y="147.75" text-anchor="end" dominant-baseline="central">0</text><text x="669.80" y="167.80" text-anchor="end" dominant-baseline="central">0</text><text x="669.80" y="190.95" text-anchor="end" dominant-baseline="central">0</text></g>
</svg>
</body></html>
